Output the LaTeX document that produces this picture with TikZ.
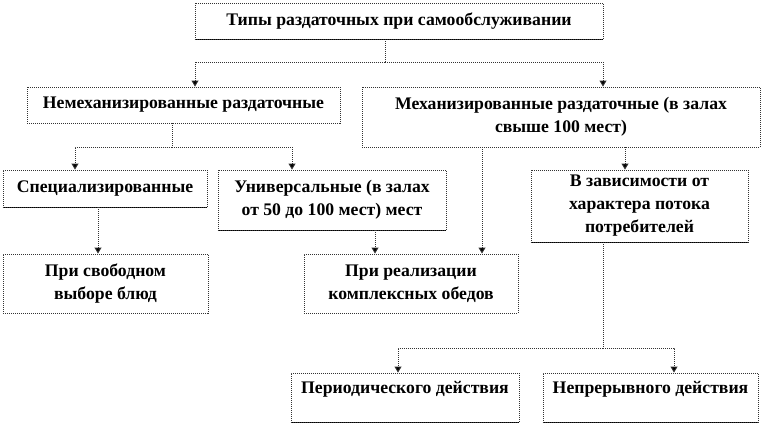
\documentclass[tikz,border=0pt]{standalone}
\usepackage{fontspec}
\setmainfont{Liberation Serif}
\usetikzlibrary{arrows.meta}
\begin{document}
\begin{tikzpicture}[x=1pt,y=-1pt,
  box/.style={inner sep=0pt, align=center, font=\fontsize{17.7}{23}\selectfont\bfseries,
    draw=black!80, line width=0.9pt, dash pattern=on 1pt off 1pt},
  solidbottom/.style={append after command={
    \pgfextra{\draw[line width=1pt,black,solid] (\tikzlastnode.south west) -- (\tikzlastnode.south east);}}},
  link/.style={draw=black!80, line width=0.9pt, dash pattern=on 1pt off 1pt},
  arr/.style={link, -{Triangle[width=7pt,length=6pt,fill=black]}}
]
\useasboundingbox (0,0) rectangle (762,424);
% boxes
\node[box, solidbottom, minimum width=408pt, minimum height=36pt] (top) at (399,21)
  {Типы раздаточных при самообслуживании};
\node[box, minimum width=313pt, minimum height=36pt] (nem) at (183.5,105)
  {Немеханизированные раздаточные};
\node[box, minimum width=398pt, minimum height=60pt] (mekh) at (561,117)
  {Механизированные раздаточные (в залах\\свыше 100 мест)};
\node[box, solidbottom, minimum width=204pt, minimum height=37pt] (spec) at (105,188.5)
  {Специализированные};
\node[box, solidbottom, minimum width=228pt, minimum height=60pt] (univ) at (332,200)
  {Универсальные (в залах\\от 50 до 100 мест) мест};
\node[box, solidbottom, minimum width=217pt, minimum height=72pt] (vzav) at (639.5,206)
  {В зависимости от\\характера потока\\потребителей};
\node[box, minimum width=205pt, minimum height=59pt] (svob) at (105.5,283.5)
  {При свободном\\выборе блюд};
\node[box, minimum width=214pt, minimum height=59pt] (real) at (411,283.5)
  {При реализации\\комплексных обедов};
\node[box, solidbottom, minimum width=228pt, text height=20pt, text depth=29pt] (per) at (405,397.5)
  {Периодического действия};
\node[box, solidbottom, minimum width=215pt, text height=20pt, text depth=29pt] (nep) at (650.5,397.5)
  {Непрерывного действия};
% bend points
\coordinate (j1) at (385,62);
\coordinate (j1l) at (195,62);
\coordinate (j1r) at (603,62);
\coordinate (j2) at (172,147);
\coordinate (j2l) at (75,147);
\coordinate (j2r) at (292,147);
\coordinate (m1) at (482,0);
\coordinate (m2) at (625,0);
\coordinate (s1) at (98,0);
\coordinate (u1) at (375,0);
\coordinate (j3) at (603,348);
\coordinate (j3l) at (398,348);
\coordinate (j3r) at (674,348);
% connectors
\draw[link] (top.south -| j1) -- (j1);
\draw[arr] (j1) -- (j1l) -- (j1l |- nem.north);
\draw[arr] (j1) -- (j1r) -- (j1r |- mekh.north);
\draw[link] (nem.south -| j2) -- (j2);
\draw[arr] (j2) -- (j2l) -- (j2l |- spec.north);
\draw[arr] (j2) -- (j2r) -- (j2r |- univ.north);
\draw[arr] (mekh.south -| m1) -- (real.north -| m1);
\draw[arr] (mekh.south -| m2) -- (vzav.north -| m2);
\draw[arr] (spec.south -| s1) -- (svob.north -| s1);
\draw[arr] (univ.south -| u1) -- (real.north -| u1);
\draw[link] (vzav.south -| j3) -- (j3);
\draw[arr] (j3) -- (j3l) -- (j3l |- per.north);
\draw[arr] (j3) -- (j3r) -- (j3r |- nep.north);
\end{tikzpicture}
\end{document}
